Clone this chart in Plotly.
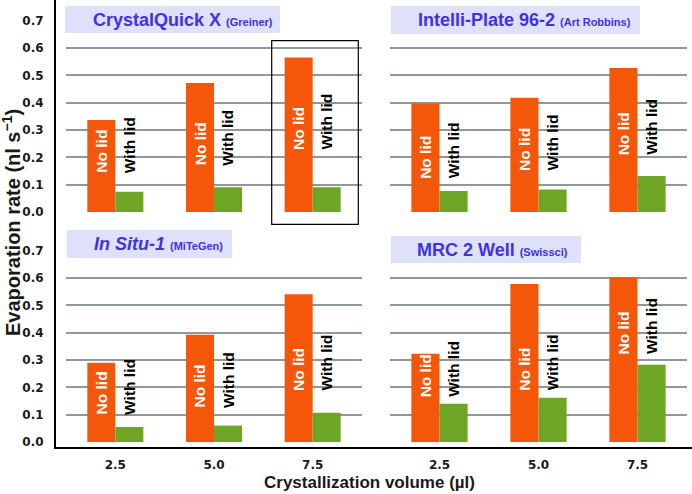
import plotly.graph_objects as go

# ---------------- data ----------------
volumes = ["2.5", "5.0", "7.5"]
panel_names = ["CrystalQuick X", "Intelli-Plate 96-2", "In Situ-1", "MRC 2 Well"]
panel_makers = ["Greiner", "Art Robbins", "MiTeGen", "Swissci"]

no_lid_crystalquick = [0.337, 0.472, 0.565]
with_lid_crystalquick = [0.074, 0.091, 0.091]
no_lid_intelliplate = [0.397, 0.418, 0.527]
with_lid_intelliplate = [0.077, 0.082, 0.132]
no_lid_insitu = [0.290, 0.392, 0.541]
with_lid_insitu = [0.055, 0.060, 0.107]
no_lid_mrc = [0.323, 0.578, 0.603]
with_lid_mrc = [0.140, 0.162, 0.283]

# where the rotated "No lid"/"With lid" labels start (data units)
label_base_crystalquick = [0.136, 0.162, 0.220]
label_base_intelliplate = [0.114, 0.143, 0.200]
label_base_insitu = [0.093, 0.117, 0.180]
label_base_mrc = [0.156, 0.180, 0.313]

y_ticks = [0.0, 0.1, 0.2, 0.3, 0.4, 0.5, 0.6, 0.7]

# ---------------- layout helpers ----------------
W, H = 692, 494
def px(x):
    return x / W
def py(y):
    return 1 - y / H

ORANGE = "#f4560a"
GREEN = "#6fa524"
GRID = "#8f9999"
TITLE_BLUE = "#3d33e4"
BOX_FILL = "#dfe0fa"
FONT = "Liberation Sans, Arial, sans-serif"
TICKFONT = dict(family="DejaVu Sans", size=12, color="#1a1a1a", weight="bold")

panels = [
    dict(no=no_lid_crystalquick, wl=with_lid_crystalquick, lb=label_base_crystalquick,
         xd=(66, 362), yd=(212, 20.7)),
    dict(no=no_lid_intelliplate, wl=with_lid_intelliplate, lb=label_base_intelliplate,
         xd=(390, 687), yd=(212, 20.7)),
    dict(no=no_lid_insitu, wl=with_lid_insitu, lb=label_base_insitu,
         xd=(66, 362), yd=(442, 250.7)),
    dict(no=no_lid_mrc, wl=with_lid_mrc, lb=label_base_mrc,
         xd=(390, 687), yd=(442, 250.7)),
]

fig = go.Figure()
annotations = []
shapes = []
layout_axes = {}

for k, p in enumerate(panels):
    n = "" if k == 0 else str(k + 1)
    fig.add_trace(go.Bar(x=volumes, y=p["no"], name="No lid", marker_color=ORANGE,
                         marker_line_width=0, xaxis="x" + n, yaxis="y" + n,
                         showlegend=False))
    fig.add_trace(go.Bar(x=volumes, y=p["wl"], name="With lid", marker_color=GREEN,
                         marker_line_width=0, xaxis="x" + n, yaxis="y" + n,
                         showlegend=False))
    bottom = k >= 2
    left = k % 2 == 0
    layout_axes["xaxis" + n] = dict(
        domain=[px(p["xd"][0]), px(p["xd"][1])], anchor="y" + n,
        type="category", range=[-0.5, 2.5], showgrid=False, zeroline=False,
        showline=False, ticks="outside", ticklen=12, tickcolor="rgba(0,0,0,0)",
        showticklabels=bottom, tickfont=TICKFONT,
    )
    layout_axes["yaxis" + n] = dict(
        domain=[py(p["yd"][0]), py(p["yd"][1])], anchor="x" + n,
        range=[0, 0.7], tickmode="array", tickvals=y_ticks,
        ticktext=[f"{v:.1f}" for v in y_ticks],
        showgrid=True, gridcolor=GRID, gridwidth=1.5,
        zeroline=False, showline=False,
        ticks="outside", ticklen=19, tickcolor="rgba(0,0,0,0)",
        showticklabels=left, tickfont=TICKFONT,
    )
    for i in range(len(volumes)):
        annotations.append(dict(
            x=i, y=p["lb"][i], xref="x" + n, yref="y" + n, xshift=-14,
            text="<b>No lid</b>", textangle=-90, showarrow=False,
            xanchor="center", yanchor="bottom",
            font=dict(family=FONT, size=15.5, color="white"),
        ))
        annotations.append(dict(
            x=i, y=p["lb"][i], xref="x" + n, yref="y" + n, xshift=14,
            text="<b>With lid</b>", textangle=-90, showarrow=False,
            xanchor="center", yanchor="bottom",
            font=dict(family=FONT, size=15.5, color="black"),
        ))

# title boxes
boxes = [(65, 280, 6, 33), (391, 640, 6, 34), (66.7, 232, 230, 258), (391, 581, 236, 263)]
title_pos = [(91, 20), (416, 20.5), (91.5, 244), (415, 250)]
for (x0, x1, y0, y1) in boxes:
    shapes.append(dict(type="rect", xref="paper", yref="paper",
                       x0=px(x0), x1=px(x1), y0=py(y1), y1=py(y0),
                       fillcolor=BOX_FILL, line=dict(width=0), layer="above"))
for k, (tx, ty) in enumerate(title_pos):
    name = panel_names[k]
    main = f"<i><b>{name}</b></i>" if k == 2 else f"<b>{name}</b>"
    annotations.append(dict(
        x=px(tx), y=py(ty), xref="paper", yref="paper", xanchor="left", yanchor="middle",
        showarrow=False,
        text=main + f" <span style='font-size:11px'><b>({panel_makers[k]})</b></span>",
        font=dict(family=FONT, size=18, color=TITLE_BLUE),
    ))

# highlight rectangle around CrystalQuick X 7.5 µl
shapes.append(dict(type="rect", xref="paper", yref="paper",
                   x0=px(271.7), x1=px(358.3), y0=py(224.3), y1=py(40.7),
                   line=dict(color="black", width=1.2), fillcolor="rgba(0,0,0,0)"))
# main axis lines
shapes.append(dict(type="line", xref="paper", yref="paper",
                   x0=px(55), x1=px(55), y0=py(448), y1=py(0),
                   line=dict(color="black", width=2)))
shapes.append(dict(type="line", xref="paper", yref="paper",
                   x0=px(54), x1=px(692), y0=py(448), y1=py(448),
                   line=dict(color="black", width=2.2)))

# axis titles
annotations.append(dict(
    x=px(11), y=py(223), xref="paper", yref="paper", xanchor="center", yanchor="middle",
    showarrow=False, textangle=-90,
    text="<b>Evaporation rate (nl s<sup>\u22121</sup>)</b>",
    font=dict(family=FONT, size=20, color="#1a1a1a"),
))
annotations.append(dict(
    x=px(369), y=py(494), xref="paper", yref="paper", xanchor="center", yanchor="bottom",
    showarrow=False,
    text="<b>Crystallization volume (\u00b5l)</b>",
    font=dict(family=FONT, size=17, color="#1a1a1a"),
))

fig.update_layout(
    template="none",
    width=W, height=H, margin=dict(l=0, r=0, t=0, b=0),
    paper_bgcolor="white", plot_bgcolor="white",
    barmode="group", bargap=0.432, bargroupgap=0,
    annotations=annotations, shapes=shapes,
    **layout_axes,
)

fig.write_html(
    "out.html",
    config={"displayModeBar": False, "responsive": False},
    post_script=(
        "document.body.style.margin='0';document.body.style.overflow='hidden';"
        "var gd=document.getElementById('{plot_id}');"
        "gd.style.position='fixed';gd.style.left='0px';gd.style.top='0px';"
    ),
)
